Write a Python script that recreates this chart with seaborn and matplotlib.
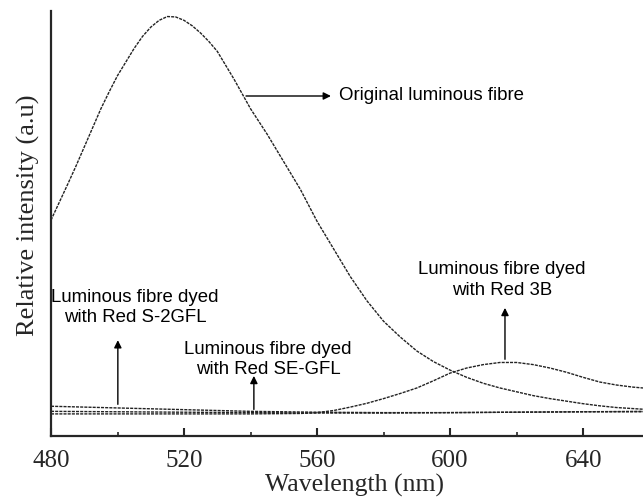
import matplotlib
matplotlib.use("Agg")
import matplotlib.pyplot as plt
import seaborn as sns
import pandas as pd
from matplotlib.ticker import MultipleLocator

sns.set_style("ticks")
plt.rcParams['font.family'] = ['Liberation Serif', 'DejaVu Serif']

# ---- data ----
wl_original = [480, 482.5, 485, 487.5, 490, 492.5, 495, 497.5, 500, 502.5, 505, 507.5,
               510, 512.5, 515, 517.5, 520, 522.5, 525, 527.5, 530, 535, 540, 545,
               550, 555, 560, 565, 570, 575, 580, 585, 590, 595, 600, 605, 610, 615,
               620, 625, 630, 635, 640, 645, 650, 658]
int_original = [0.508, 0.55, 0.592, 0.635, 0.68, 0.725, 0.77, 0.81, 0.848, 0.88, 0.912,
                0.94, 0.962, 0.978, 0.987, 0.986, 0.978, 0.965, 0.948, 0.928, 0.905,
                0.84, 0.77, 0.71, 0.645, 0.58, 0.505, 0.44, 0.375, 0.318, 0.27, 0.233,
                0.20, 0.175, 0.155, 0.138, 0.124, 0.113, 0.104, 0.095, 0.088, 0.082,
                0.076, 0.071, 0.067, 0.063]

wl_red3b = [480, 500, 520, 540, 555, 560, 565, 570, 575, 580, 585, 590, 595, 600, 605,
            610, 615, 620, 625, 630, 635, 640, 645, 650, 655, 658]
int_red3b = [0.052, 0.052, 0.052, 0.052, 0.053, 0.055, 0.06, 0.068, 0.077, 0.088, 0.10,
             0.113, 0.13, 0.148, 0.16, 0.168, 0.173, 0.173, 0.168, 0.16, 0.15, 0.138,
             0.127, 0.12, 0.115, 0.113]

wl_s2gfl = [480, 500, 520, 540, 560, 580, 600, 620, 640, 658]
int_s2gfl = [0.070, 0.066, 0.062, 0.058, 0.056, 0.055, 0.055, 0.056, 0.057, 0.057]

wl_segfl = [480, 500, 520, 540, 560, 580, 600, 620, 640, 658]
int_segfl = [0.058, 0.057, 0.056, 0.055, 0.054, 0.054, 0.055, 0.056, 0.057, 0.058]

xticks = [480, 520, 560, 600, 640]

fig = plt.figure(figsize=(6.43, 4.99), dpi=100)
ax = fig.add_axes([51/643, 1-436/499, 1-51/643, 425/499])

dash = (0, (2.2, 0.8))
for wl, val in [(wl_original, int_original), (wl_red3b, int_red3b),
                (wl_s2gfl, int_s2gfl), (wl_segfl, int_segfl)]:
    df = pd.DataFrame({"wl": wl, "val": val})
    sns.lineplot(data=df, x="wl", y="val", ax=ax, color="#222222", lw=1.0,
                 linestyle=dash)

ax.set_xlim(480, 658)
ax.set_ylim(0, 1.0)
ax.set_xticks(xticks)
ax.xaxis.set_minor_locator(MultipleLocator(20))
ax.set_yticks([])
ax.tick_params(axis='x', which='major', direction='in', length=6, width=1.5,
               labelsize=18, pad=10)
ax.tick_params(axis='x', which='minor', direction='in', length=3, width=1.2)
for s in ['top', 'right']:
    ax.spines[s].set_visible(False)
for s in ['left', 'bottom']:
    ax.spines[s].set_linewidth(1.6)
ax.set_xlabel("Wavelength (nm)", fontsize=18.5)
ax.set_ylabel("Relative intensity (a.u)", fontsize=19)
ax.xaxis.set_label_coords(0.513, -0.090)
ax.yaxis.set_label_coords(-0.019, 0.52)

sans = ['Liberation Sans', 'DejaVu Sans']
fs = 13.4
ap = dict(arrowstyle='-|>', color='black', lw=1.0, mutation_scale=11)
ax.annotate("", xy=(565.0, 0.80), xytext=(537.8, 0.80), arrowprops=ap)
ax.text(566.5, 0.80, "Original luminous fibre", family=sans, fontsize=fs,
        va='center', ha='left', color='black')

ax.annotate("", xy=(616.5, 0.308), xytext=(616.5, 0.174), arrowprops=ap)
ax.text(615.6, 0.367, "Luminous fibre dyed\nwith Red 3B", family=sans, fontsize=fs,
        va='center', ha='center', linespacing=1.3, color='black')

ax.annotate("", xy=(500.1, 0.232), xytext=(500.1, 0.068), arrowprops=ap)
ax.text(505.3, 0.302, "Luminous fibre dyed\nwith Red S-2GFL", family=sans, fontsize=fs,
        va='center', ha='center', linespacing=1.22, color='black')

ax.annotate("", xy=(541, 0.148), xytext=(541, 0.056), arrowprops=ap)
ax.text(545.3, 0.180, "Luminous fibre dyed\nwith Red SE-GFL", family=sans, fontsize=fs,
        va='center', ha='center', linespacing=1.18, color='black')

fig.savefig("out.png", dpi=100)
